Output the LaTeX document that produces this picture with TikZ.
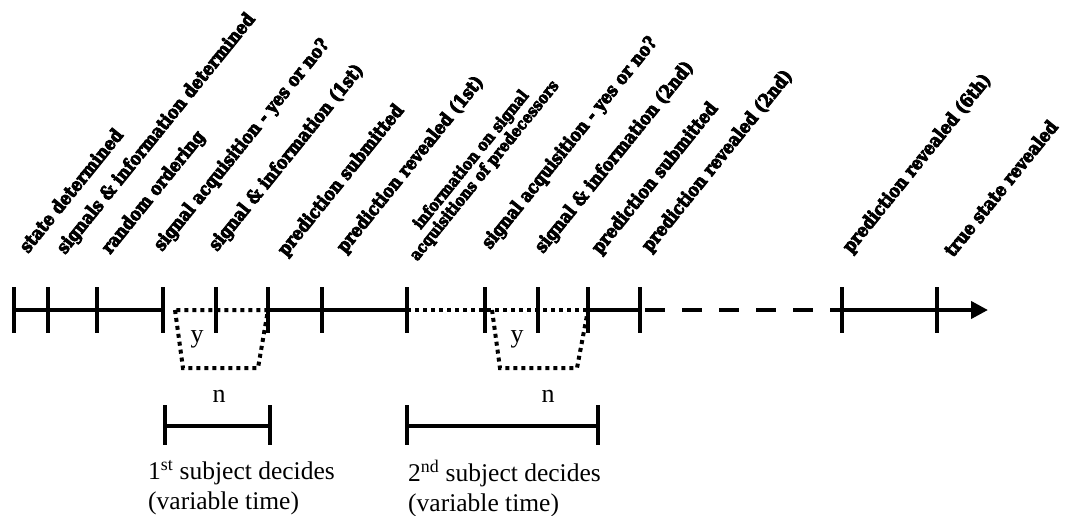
\documentclass[tikz,border=0pt]{standalone}
\usepackage{fontspec}
\setmainfont{Liberation Serif}
\newfontfamily\eventfont{DejaVu Serif}[FakeStretch=0.86,BoldFeatures={FakeBold=4.5}]
\usetikzlibrary{arrows.meta}

\begin{document}
\begin{tikzpicture}[x=1pt,y=-1pt,
    axis/.style={line width=4pt},
    dotline/.style={line width=4pt,dash pattern=on 4pt off 4pt},
    gapline/.style={line width=4pt,dash pattern=on 20pt off 17pt,dash phase=32pt},
    event/.style={rotate=51,anchor=base west,inner sep=0pt,
        font={\eventfont\bfseries\fontsize{18.5}{19}\selectfont}},
    smallevent/.style={rotate=51,anchor=south west,inner sep=0pt,align=center,
        font={\eventfont\bfseries\fontsize{16.5}{15.5}\selectfont}},
    choice/.style={anchor=base,inner sep=0pt,font=\fontsize{26}{28}\selectfont},
    note/.style={anchor=north west,inner sep=0pt,align=left,
        font=\fontsize{25.5}{30}\selectfont},
    ]
    \useasboundingbox (0,0) rectangle (1067,515);

    % Ticks of the time line
    \foreach \x [count=\i] in {14,48,97,163,216,268,322,407,485,538,588,640,842,937}
        \coordinate (t\i) at (\x,310);
    \coordinate (tipend) at (988,310);
    \foreach \i in {1,...,14}
        \draw[axis] ([yshift=23pt]t\i) -- ([yshift=-23pt]t\i);

    % Time line
    \draw[axis] (t1) -- (t4);
    \draw[axis] (t6) -- (t8);
    \draw[axis] (t11) -- (t12);
    \draw[gapline] (t12) -- (t13);
    \draw[axis,-{Triangle[length=17pt,width=17pt]}] (t13) -- (tipend);

    % Yes branches
    \coordinate (ya1) at (175,310);
    \coordinate (yb1) at (183,368);
    \coordinate (yc1) at (258,368);
    \coordinate (ya2) at (492,310);
    \coordinate (yb2) at (500,368);
    \coordinate (yc2) at (577,368);
    \draw[dotline] (ya1) -- (yb1) -- (yc1) -- (t6) -- cycle;
    \draw[dotline] (t8) -- (t11);
    \draw[dotline] (ya2) -- (yb2) -- (yc2) -- (t11);
    \node[choice] (yes1) at (197,342) {y};
    \node[choice] (yes2) at (517,342) {y};
    \node[choice] (no1) at (219,402) {n};
    \node[choice] (no2) at (548,402) {n};

    % Decision spans
    \coordinate (da1) at (165,426);
    \coordinate (db1) at (270,426);
    \coordinate (da2) at (407,426);
    \coordinate (db2) at (598,426);
    \draw[axis] (da1) -- (db1);
    \draw[axis] (da2) -- (db2);
    \foreach \c in {da1,db1,da2,db2}
        \draw[axis] ([yshift=21pt]\c) -- ([yshift=-19pt]\c);
    \node[note] (dec1) at (148,460) {1\textsuperscript{st} subject decides\\(variable time)};
    \node[note] (dec2) at (408,460) {2\textsuperscript{nd} subject decides\\(variable time)};

    % Events
    \node[event] (ev1) at (28,254) {state determined};
    \node[event] (ev2) at (65,255) {signals \& information determined};
    \node[event] (ev3) at (110,255) {random ordering};
    \node[event] (ev4) at (162,252) {signal acquisition - yes or no?};
    \node[event] (ev5) at (217,252) {signal \& information (1st)};
    \node[event] (ev6) at (286,257) {prediction submitted};
    \node[event] (ev7) at (345,254) {prediction revealed (1st)};
    \node[smallevent] (ev8) at (420,264) {information on signal\\acquisitions of predecessors};
    \node[event] (ev9) at (490,250) {signal acquisition - yes or no?};
    \node[event] (ev10) at (543,254) {signal \& information (2nd)};
    \node[event] (ev11) at (600,255) {prediction submitted};
    \node[event] (ev12) at (650,253) {prediction revealed (2nd)};
    \node[event] (ev13) at (851,254) {prediction revealed (6th)};
    \node[event] (ev14) at (953,258) {true state revealed};
\end{tikzpicture}
\end{document}
